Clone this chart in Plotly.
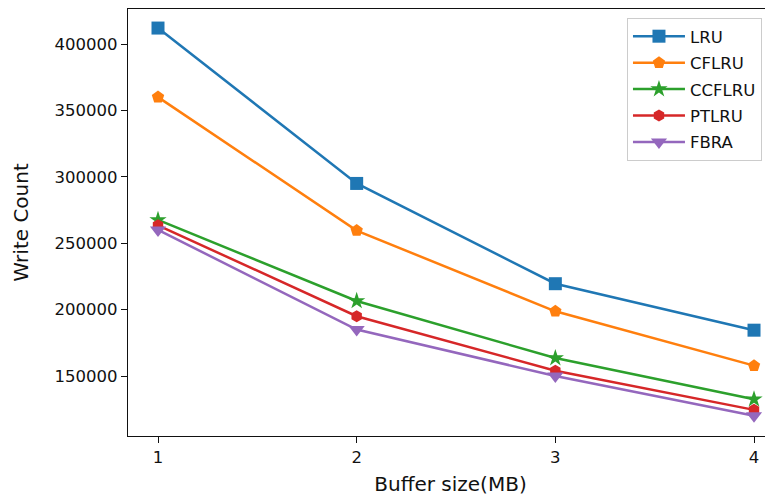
import plotly.graph_objects as go

buffer_mb = [1, 2, 3, 4]
lru = [412000, 295000, 219500, 184500]
cflru = [360000, 259500, 198700, 157800]
ccflru = [267500, 206500, 163500, 132500]
ptlru = [263500, 195000, 154000, 124500]
fbra = [260000, 185000, 150000, 120000]
y_ticks = [150000, 200000, 250000, 300000, 350000, 400000]
x_ticks = [1, 2, 3, 4]

series = [
    ("LRU", lru, "#1f77b4", "square", 13),
    ("CFLRU", cflru, "#ff7f0e", "pentagon", 13),
    ("CCFLRU", ccflru, "#2ca02c", "star", 13),
    ("PTLRU", ptlru, "#d62728", "hexagon", 12),
    ("FBRA", fbra, "#9467bd", "triangle-down", 14),
]

fig = go.Figure()
for name, vals, color, sym, size in series:
    fig.add_trace(go.Scatter(
        x=buffer_mb, y=vals, name=name, mode="lines+markers", legendgroup=name,
        line=dict(color=color, width=2.5),
        marker=dict(symbol=sym, size=size, color=color),
    ))

# The page body has an 8px margin, so the figure is sized/offset to compensate.
fig.update_layout(
    width=765, height=491,
    margin=dict(l=120, r=0, t=1, b=63, autoexpand=False),
    paper_bgcolor="white", plot_bgcolor="white",
    font=dict(family="DejaVu Sans", size=16.5, color="#111111"),
    showlegend=True,
    legend=dict(
        x=0.7736, y=0.979, xanchor="left", yanchor="top",
        bgcolor="rgba(255,255,255,0.8)", bordercolor="#cccccc", borderwidth=1,
        font=dict(family="DejaVu Sans", size=16.5, color="#111111"),
        tracegroupgap=2, itemwidth=52,
    ),
)
fig.update_xaxes(
    range=[0.849, 4.0956], tickvals=x_ticks, ticktext=[str(v) for v in x_ticks],
    showgrid=False, zeroline=False, automargin=False,
    showline=True, linecolor="#111111", linewidth=1.3, mirror=True,
    ticks="outside", ticklen=6, tickwidth=1.3, tickcolor="#111111",
    title=dict(text="Buffer size(MB)", standoff=11),
)
fig.update_yaxes(
    range=[104820, 426355], tickvals=y_ticks, ticktext=[str(v) for v in y_ticks],
    showgrid=False, zeroline=False, automargin=False,
    showline=True, linecolor="#111111", linewidth=1.3, mirror=False,
    ticks="outside", ticklen=6, tickwidth=1.3, tickcolor="#111111",
    title=dict(text="Write Count", standoff=20),
)
fig.write_html("out.html")
